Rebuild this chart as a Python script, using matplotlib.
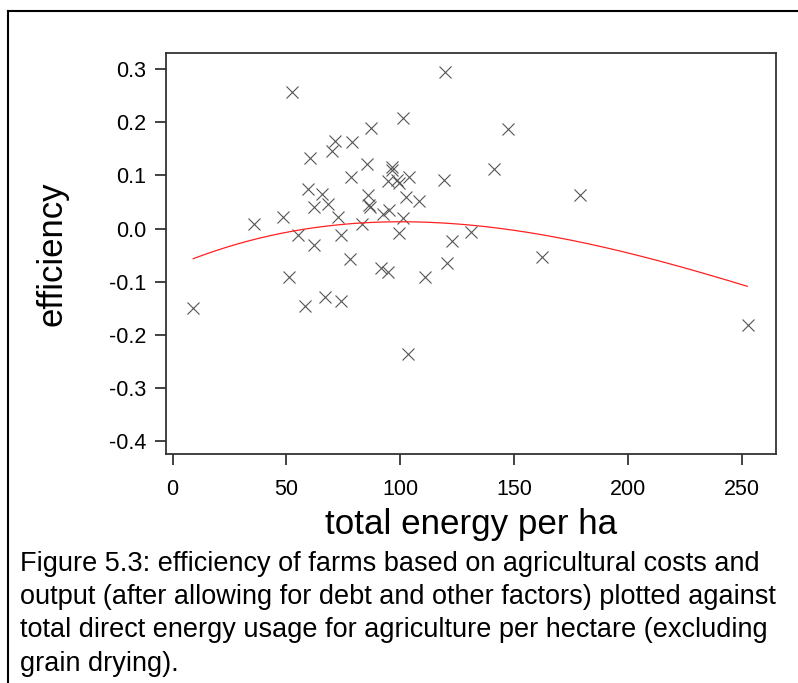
import numpy as np
import matplotlib
matplotlib.use("Agg")
import matplotlib.pyplot as plt
from matplotlib.lines import Line2D

plt.rcParams['font.family'] = ['Liberation Sans', 'DejaVu Sans']

# farm survey: total energy per ha vs efficiency residual
energy = [9.1, 35.7, 48.7, 51.3, 52.3, 55.0, 58.2, 59.6, 60.4, 62.2,
          62.3, 65.5, 67.1, 68.3, 70.1, 71.4, 72.9, 73.9, 73.9, 78.0,
          78.4, 79.0, 83.3, 85.6, 85.9, 86.3, 86.9, 87.2, 91.5, 92.6,
          94.6, 94.8, 95.0, 96.3, 96.6, 98.6, 99.4, 99.5, 101.1, 101.4,
          102.7, 103.3, 104.0, 108.3, 110.9, 119.3, 119.7, 120.5, 122.8, 131.0,
          141.4, 147.4, 162.5, 179.0, 253.0]
efficiency = [-0.150, 0.008, 0.021, -0.091, 0.257, -0.013, -0.145, 0.075, 0.132, -0.031,
              0.041, 0.065, -0.128, 0.046, 0.146, 0.165, 0.021, -0.013, -0.136, -0.057,
              0.097, 0.163, 0.008, 0.121, 0.064, 0.045, 0.040, 0.190, -0.075, 0.027,
              0.090, -0.081, 0.035, 0.110, 0.115, 0.091, 0.086, -0.008, 0.208, 0.019,
              0.059, -0.237, 0.097, 0.052, -0.092, 0.092, 0.294, -0.065, -0.023, -0.006,
              0.112, 0.188, -0.054, 0.064, -0.182]

# fitted trend, read at a few energy values
trend_x = [9.1, 35.5, 53.1, 72.9, 91.2, 131.0, 162.0, 179.0, 205.0, 252.5]
trend_y = [-0.054, -0.025, -0.007, 0.009, 0.014, 0.009, -0.013, -0.026, -0.052, -0.108]

xticks = [0, 50, 100, 150, 200, 250]
yticks = [-0.4, -0.3, -0.2, -0.1, 0.0, 0.1, 0.2, 0.3]

caption = ["Figure 5.3: efficiency of farms based on agricultural costs and",
           "output (after allowing for debt and other factors) plotted against",
           "total direct energy usage for agriculture per hectare (excluding",
           "grain drying)."]

W, H = 798, 683
fig = plt.figure(figsize=(W / 100, H / 100), dpi=100)
ax = fig.add_axes([165.7 / W, 1 - 454.3 / H, 610 / W, 401 / H])

ax.plot(energy, efficiency, linestyle='none', marker='x', markersize=9,
        markeredgewidth=0.8, color='#555555')

coef = np.polyfit(trend_x, trend_y, 3)
xs = np.linspace(trend_x[0], trend_x[-1], 200)
ax.plot(xs, np.polyval(coef, xs), color='#ff2020', linewidth=0.9)

ax.set_xlim(-3, 265)
ax.set_ylim(-0.425, 0.330)
ax.set_xticks(xticks)
ax.set_xticklabels([str(t) for t in xticks])
ax.set_yticks(yticks)
ax.set_yticklabels([f"{t:.1f}" for t in yticks])
ax.tick_params(axis='both', direction='out', length=8, width=1.2, labelsize=15.5,
               colors='#222222', labelcolor='black')
ax.tick_params(axis='x', pad=10)
ax.tick_params(axis='y', pad=6)
for sp in ax.spines.values():
    sp.set_linewidth(1.3)
    sp.set_color('#333333')

ax.set_xlabel("total energy per ha", fontsize=25.2, va='center')
ax.xaxis.set_label_coords(0.5, -0.175)
ax.set_ylabel("efficiency", fontsize=25, va='center')
ax.yaxis.set_label_coords(-0.186, 0.5)

for i, line in enumerate(caption):
    fig.text(20 / W, 1 - (571 + 33.2 * i) / H, line, fontsize=19.5,
             ha='left', va='baseline', color='black')

# page frame (left and top edges)
fig.add_artist(Line2D([8 / W, 8 / W], [0, 1 - 11 / H], color='black', linewidth=1.5))
fig.add_artist(Line2D([8 / W, 1], [1 - 11 / H, 1 - 11 / H], color='black', linewidth=1.5))

fig.savefig("out.png", dpi=100)
